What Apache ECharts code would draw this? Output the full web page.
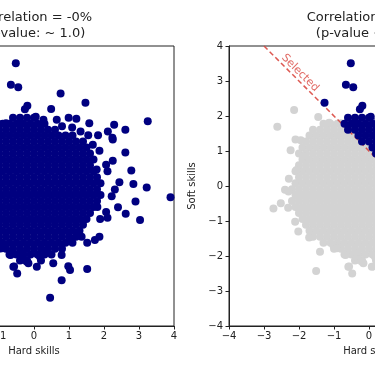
<!DOCTYPE html>
<html>
<head>
<meta charset="utf-8">
<script src="https://cdn.jsdelivr.net/npm/echarts@6/dist/echarts.min.js"></script>
<style>html,body{margin:0;padding:0;background:#fff}#c{width:375px;height:366px}</style>
</head>
<body>
<div id="c"></div>
<script>
// ---- data (hard skills, soft skills) ----
const denseCloudRows = [
 [1.95, [-0.6,-0.4,-0.2,0.0]],
 [1.78, [-1.3,-1.1,-0.9,-0.7,-0.5,-0.3,-0.1,0.1,0.3]],
 [1.61, [-1.6,-1.4,-1.2,-1.0,-0.8,-0.6,-0.4,-0.2,0.0,0.2,0.4,0.6]],
 [1.44, [-1.7,-1.5,-1.3,-1.1,-0.9,-0.7,-0.5,-0.3,-0.1,0.1,0.3,0.5,0.7,0.9,1.1]],
 [1.27, [-1.8,-1.6,-1.4,-1.2,-1.0,-0.8,-0.6,-0.4,-0.2,0.0,0.2,0.4,0.6,0.8,1.0,1.2,1.4]],
 [1.10, [-1.9,-1.7,-1.5,-1.3,-1.1,-0.9,-0.7,-0.5,-0.3,-0.1,0.1,0.3,0.5,0.7,0.9,1.1,1.3,1.5]],
 [0.93, [-2.0,-1.8,-1.6,-1.4,-1.2,-1.0,-0.8,-0.6,-0.4,-0.2,0.0,0.2,0.4,0.6,0.8,1.0,1.2,1.4,1.6]],
 [0.76, [-1.9,-1.7,-1.5,-1.3,-1.1,-0.9,-0.7,-0.5,-0.3,-0.1,0.1,0.3,0.5,0.7,0.9,1.1,1.3,1.5,1.7]],
 [0.59, [-2.0,-1.8,-1.6,-1.4,-1.2,-1.0,-0.8,-0.6,-0.4,-0.2,0.0,0.2,0.4,0.6,0.8,1.0,1.2,1.4,1.6]],
 [0.42, [-2.1,-1.9,-1.7,-1.5,-1.3,-1.1,-0.9,-0.7,-0.5,-0.3,-0.1,0.1,0.3,0.5,0.7,0.9,1.1,1.3,1.5,1.7]],
 [0.25, [-2.0,-1.8,-1.6,-1.4,-1.2,-1.0,-0.8,-0.6,-0.4,-0.2,0.0,0.2,0.4,0.6,0.8,1.0,1.2,1.4,1.6,1.8]],
 [0.08, [-2.1,-1.9,-1.7,-1.5,-1.3,-1.1,-0.9,-0.7,-0.5,-0.3,-0.1,0.1,0.3,0.5,0.7,0.9,1.1,1.3,1.5,1.7,1.9]],
 [-0.09, [-2.2,-2.0,-1.8,-1.6,-1.4,-1.2,-1.0,-0.8,-0.6,-0.4,-0.2,0.0,0.2,0.4,0.6,0.8,1.0,1.2,1.4,1.6,1.8]],
 [-0.26, [-2.1,-1.9,-1.7,-1.5,-1.3,-1.1,-0.9,-0.7,-0.5,-0.3,-0.1,0.1,0.3,0.5,0.7,0.9,1.1,1.3,1.5,1.7,1.9]],
 [-0.43, [-2.2,-2.0,-1.8,-1.6,-1.4,-1.2,-1.0,-0.8,-0.6,-0.4,-0.2,0.0,0.2,0.4,0.6,0.8,1.0,1.2,1.4,1.6,1.8]],
 [-0.60, [-2.1,-1.9,-1.7,-1.5,-1.3,-1.1,-0.9,-0.7,-0.5,-0.3,-0.1,0.1,0.3,0.5,0.7,0.9,1.1,1.3,1.5,1.7]],
 [-0.77, [-2.0,-1.8,-1.6,-1.4,-1.2,-1.0,-0.8,-0.6,-0.4,-0.2,0.0,0.2,0.4,0.6,0.8,1.0,1.2,1.4,1.6]],
 [-0.94, [-1.9,-1.7,-1.5,-1.3,-1.1,-0.9,-0.7,-0.5,-0.3,-0.1,0.1,0.3,0.5,0.7,0.9,1.1,1.3,1.5]],
 [-1.11, [-1.8,-1.6,-1.4,-1.2,-1.0,-0.8,-0.6,-0.4,-0.2,0.0,0.2,0.4,0.6,0.8,1.0,1.2,1.4]],
 [-1.28, [-1.7,-1.5,-1.3,-1.1,-0.9,-0.7,-0.5,-0.3,-0.1,0.1,0.3,0.5,0.7,0.9,1.1,1.3]],
 [-1.45, [-1.6,-1.4,-1.2,-1.0,-0.8,-0.6,-0.4,-0.2,0.0,0.2,0.4,0.6,0.8,1.0,1.2]],
 [-1.62, [-1.3,-1.1,-0.9,-0.7,-0.5,-0.3,-0.1,0.1,0.3,0.5,0.7,0.9,1.1]],
 [-1.79, [-1.0,-0.8,-0.6,-0.4,-0.2,0.0,0.2,0.4,0.6,0.8]],
 [-1.96, [-0.7,-0.5,-0.3,-0.1,0.1,0.3,0.5]],
 [-2.13, [-0.4,-0.2,0.2]]
];

const upperPoints = [
 [-0.52,3.51],[-0.66,2.89],[-0.45,2.82],[0.76,2.64],[1.47,2.38],[0.49,2.2],[-0.19,2.29],[-0.26,2.19],
 [3.25,1.85],[1.58,1.79],[2.29,1.75],[2.61,1.61],[0.99,1.95],[1.21,1.92],[0.65,1.89],[0.8,1.71],
 [1.09,1.67],[1.33,1.56],[1.55,1.45],[1.83,1.45],[2.11,1.56],[2.24,1.38],[0.05,1.98],[0.27,1.89],
 [-0.4,1.79],[-0.8,1.79],[-1.27,2.38],[-2.14,2.17],[-2.62,1.69],[-1.45,1.97],[-1.14,1.81],
 [-2.1,1.33],[-1.95,1.31],[-2.24,1.02],[-1.86,0.86]
];

const rightSidePoints = [
 [2.25,1.33],[2.61,0.96],[2.25,0.72],[2.06,0.61],[2.1,0.42],[2.78,0.44],[1.79,0.47],[2.44,0.11],
 [2.84,0.06],[3.22,-0.04],[3.9,-0.32],[2.31,-0.1],[2.22,-0.29],[2.9,-0.44],[2.4,-0.61],[2.62,-0.79],
 [3.03,-0.97],[2.06,-0.74],[1.89,-0.94],[2.1,-0.91],[1.81,-0.6],[1.87,1.01],[1.68,1.18]
];

const lowerPoints = [
 [0.46,-3.19],[0.79,-2.69],[1.52,-2.37],[1.03,-2.4],[0.98,-2.29],[-0.48,-2.5],[-0.59,-2.31],[-0.64,-1.92],
 [0.08,-2.31],[-0.16,-2.21],[0.55,-2.21],[0.79,-1.97],[1.87,-1.45],[1.74,-1.54],[1.52,-1.62],[1.36,-1.45],
 [1.03,-1.49],[-0.35,-1.92],[-0.3,-2.11],[0.17,-2.02],[0.36,-1.83],[-1.4,-1.88],[-1.51,-2.43],[-0.67,-1.97],
 [-0.57,-2.3],[-1.02,-1.69],[-0.92,-1.78],[-0.21,-2.16],[-1.71,-1.47],[-2.02,-1.3],[-2.11,-1.02]
];

const leftSidePoints = [
 [-2.29,0.21],[-2.4,-0.11],[-2.3,-0.16],[-2.52,-0.49],[-2.73,-0.64],[-2.31,-0.62],[-2.07,0.46],[-1.67,-0.96]
];

const selectionThreshold = 1;               // selected when hard + soft > 1
const thresholdLine = [[-3, 4], [4, -3]];
const selectedLabelAt = [-1.97, 3.23];
const axisTicks = [-4, -3, -2, -1, 0, 1, 2, 3, 4];
const titleLeft = ['Correlation = -0%', '(p-value: ~ 1.0)'];
const titleRight = ['Correlation = -64%', '(p-value < 0.01)'];

// ---- build ----
const allPoints = [];
denseCloudRows.forEach(([y, xs]) => xs.forEach(x => allPoints.push([x, y])));
[upperPoints, rightSidePoints, lowerPoints, leftSidePoints].forEach(a => a.forEach(p => allPoints.push(p)));
const selected = allPoints.filter(p => p[0] + p[1] > selectionThreshold);
const notSelected = allPoints.filter(p => p[0] + p[1] <= selectionThreshold);

const NAVY = '#000080', GRAY = '#d3d3d3', RED = '#d9463e';
const FONT = 'DejaVu Sans';
const DOT = 8;
const minus = v => String(v).replace('-', '\u2212');

function xAx(i) {
  return {
    gridIndex: i, type: 'value', min: axisTicks[0], max: axisTicks[axisTicks.length - 1], interval: 1,
    splitLine: {show: false},
    axisLine: {onZero: false, lineStyle: {color: '#222', width: 1}},
    axisTick: {show: true, inside: false, length: 3.5, lineStyle: {color: '#222'}},
    axisLabel: {formatter: minus, fontFamily: FONT, fontSize: 10, color: '#222', margin: 5},
    name: 'Hard skills', nameLocation: 'middle', nameGap: 20,
    nameTextStyle: {fontFamily: FONT, fontSize: 10, color: '#222'}
  };
}
function yAx(i) {
  return {
    gridIndex: i, type: 'value', min: axisTicks[0], max: axisTicks[axisTicks.length - 1], interval: 1,
    splitLine: {show: false},
    axisLine: {onZero: false, lineStyle: {color: '#222', width: 1}},
    axisTick: {show: true, inside: false, length: 3.5, lineStyle: {color: '#222'}},
    axisLabel: {formatter: minus, fontFamily: FONT, fontSize: 10, color: '#222', margin: 6},
    name: 'Soft skills', nameLocation: 'middle', nameGap: 23, nameRotate: 90,
    nameTextStyle: {fontFamily: FONT, fontSize: 10, color: '#222'}
  };
}

const titleFont = '13px "DejaVu Sans"';
const chart = echarts.init(document.getElementById('c'), null, {renderer: 'canvas'});
chart.setOption({
  animation: false,
  backgroundColor: '#fff',
  grid: [
    {left: -106, top: 46, width: 280, height: 280, show: true, borderColor: '#222', borderWidth: 1,
     containLabel: false, outerBoundsMode: 'none'},
    {left: 229, top: 46, width: 280, height: 280, show: true, borderColor: '#222', borderWidth: 1,
     containLabel: false, outerBoundsMode: 'none'}
  ],
  xAxis: [xAx(0), xAx(1)],
  yAxis: [yAx(0), yAx(1)],
  graphic: [
    {type: 'text', x: 34, y: 18, style: {text: titleLeft[0], align: 'center', verticalAlign: 'middle', font: titleFont, fill: '#222'}},
    {type: 'text', x: 34, y: 34, style: {text: titleLeft[1], align: 'center', verticalAlign: 'middle', font: titleFont, fill: '#222'}},
    {type: 'text', x: 369, y: 18, style: {text: titleRight[0], align: 'center', verticalAlign: 'middle', font: titleFont, fill: '#222'}},
    {type: 'text', x: 369, y: 34, style: {text: titleRight[1], align: 'center', verticalAlign: 'middle', font: titleFont, fill: '#222'}}
  ],
  series: [
    {type: 'scatter', xAxisIndex: 0, yAxisIndex: 0, data: allPoints, symbolSize: DOT,
     itemStyle: {color: NAVY, opacity: 1}, silent: true},
    {type: 'scatter', xAxisIndex: 1, yAxisIndex: 1, data: notSelected, symbolSize: DOT,
     itemStyle: {color: GRAY, opacity: 1}, silent: true, z: 2},
    {type: 'line', xAxisIndex: 1, yAxisIndex: 1, data: thresholdLine, showSymbol: false, symbol: 'none',
     lineStyle: {color: RED, width: 1.5, type: [5, 3], opacity: 0.9}, silent: true, z: 3},
    {type: 'scatter', xAxisIndex: 1, yAxisIndex: 1, data: selected, symbolSize: DOT,
     itemStyle: {color: NAVY, opacity: 1}, silent: true, z: 4},
    {type: 'scatter', xAxisIndex: 1, yAxisIndex: 1, data: [selectedLabelAt], symbolSize: 1,
     itemStyle: {color: 'rgba(0,0,0,0)'}, silent: true, z: 5,
     label: {show: true, position: 'inside', formatter: 'Selected', rotate: -45,
             fontFamily: FONT, fontSize: 11, color: RED}}
  ]
});
</script>
</body>
</html>
